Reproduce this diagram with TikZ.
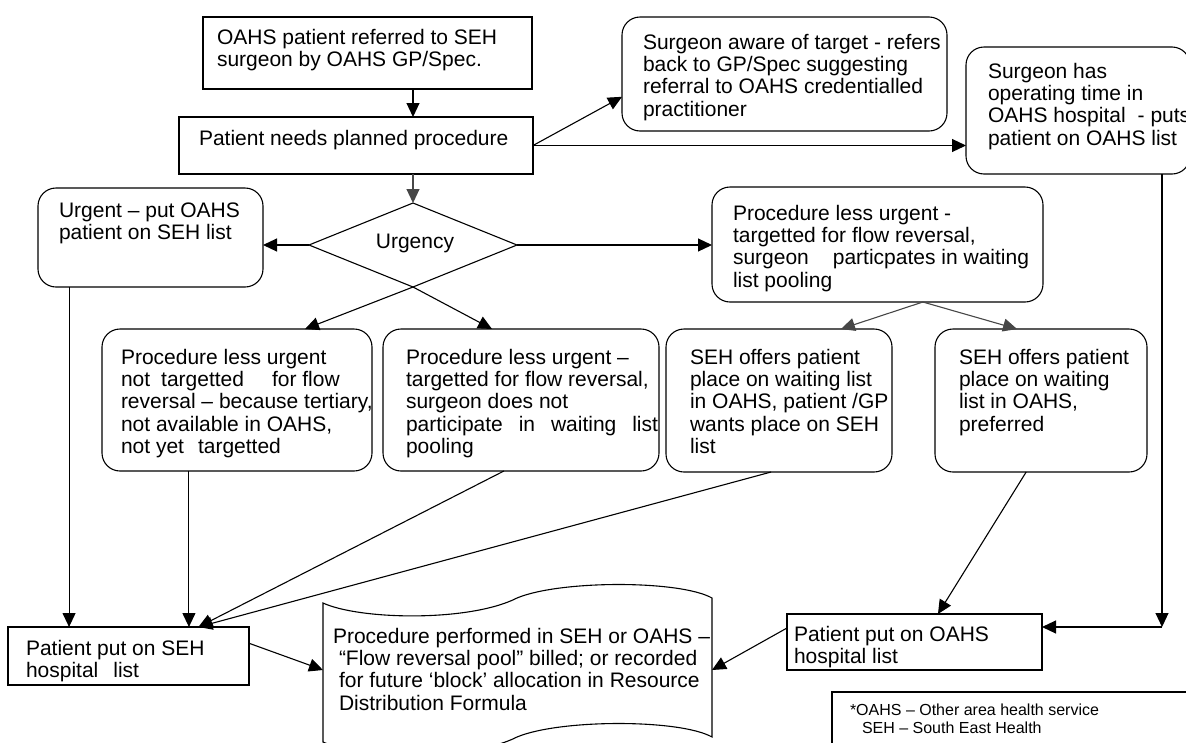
\documentclass[tikz,border=0pt]{standalone}
\usepackage{fontspec}
\setmainfont{Liberation Sans}
\usetikzlibrary{arrows.meta,shapes.geometric,calc}
\newcommand\fs{\fontsize{21pt}{22.3pt}\selectfont}
\newcommand\lfs{\fontsize{16pt}{18pt}\selectfont}
\begin{document}
\begin{tikzpicture}[x=1pt,y=-1pt,
  every node/.style={inner sep=0pt, outer sep=0pt},
  box/.style={draw, line width=1.1pt, rectangle, anchor=north west},
  rbox/.style={box, rounded corners=18pt},
  txt/.style={anchor=north west, align=left, font=\fs},
  arr/.style={line width=1.1pt, -{Triangle[length=14pt,width=13pt]}},
  garr/.style={arr, draw=black!72},
  ln/.style={line width=1.1pt}]
\path[use as bounding box] (0,0) rectangle (1186,742);
\clip (0,0) rectangle (1186,742);
\fill[white] (0,0) rectangle (1186,742);

% boxes
\node[box, minimum width=329pt, minimum height=72pt] (A) at (203,17) {};
\node[box, minimum width=354pt, minimum height=57pt] (B) at (179,117) {};
\node[rbox, minimum width=225pt, minimum height=99pt] (Urg) at (38,188) {};
\node[draw, line width=1.1pt, diamond, shape aspect=2.5, minimum width=208pt, minimum height=84pt] (D) at (413,245) {};
\node[rbox, minimum width=325pt, minimum height=114pt] (SA) at (622,17) {};
\node[rbox, minimum width=224pt, minimum height=127pt] (SH) at (966,47) {};
\node[rbox, minimum width=331pt, minimum height=115pt] (LR) at (712,187) {};
\node[rbox, minimum width=270pt, minimum height=142pt] (NT) at (102,329) {};
\node[rbox, minimum width=276pt, minimum height=142pt] (DNP) at (383,329) {};
\node[rbox, minimum width=226pt, minimum height=143pt] (GP) at (666,329) {};
\node[rbox, minimum width=212pt, minimum height=143pt] (Pref) at (935,329) {};
\node[box, minimum width=241pt, minimum height=58pt] (SEH) at (8,627) {};
\node[box, minimum width=255pt, minimum height=56pt] (OAHS) at (787,614) {};
\node[box, minimum width=370pt, minimum height=70pt] (Leg) at (832,692) {};
\node[minimum width=389pt, minimum height=140pt] (Doc) at (517.5,670) {};

% document (tape) outline
\draw[ln] (323,603) .. controls (360,620) and (470,622) .. (517,598)
  .. controls (560,580) and (680,580) .. (712,598) -- (712,737)
  .. controls (680,719) and (560,719) .. (517,737)
  .. controls (470,761) and (360,759) .. (323,742) -- cycle;

% texts
\node[txt] (tA) at (217,29) {OAHS patient referred to SEH\\surgeon by OAHS GP/Spec.};
\node[txt] (tB) at (199,130) {Patient needs planned procedure};
\node[txt] (tUrg) at (59,203) {Urgent – put OAHS\\patient on SEH list};
\node[font=\fs] (tD) at (415,243) {Urgency};
\node[txt] (tSA) at (643,34) {Surgeon aware of target - refers\\back to GP/Spec suggesting\\referral to OAHS credentialled\\practitioner};
\node[txt] (tSH) at (988,63) {Surgeon has\\operating time in\\OAHS hospital\hspace{12pt}- puts\\patient on OAHS list};
\node[txt] (tLR) at (733,205) {Procedure less urgent -\\targetted for flow reversal,\\surgeon\hspace{24pt}particpates in waiting\\list pooling};
\node[txt] (tNT) at (121,349) {Procedure less urgent\\not\hspace{11pt}targetted\hspace{28pt}for flow\\reversal – because tertiary,\\not available in OAHS,\\not yet\hspace{14pt}targetted};
\node[txt] (tDNP) at (406,349) {Procedure less urgent –\\targetted for flow reversal,\\surgeon does not\\\makebox[252pt][s]{participate in waiting list}\\pooling};
\node[txt] (tGP) at (690,349) {SEH offers patient\\place on waiting list\\in OAHS, patient /GP\\wants place on SEH\\list};
\node[txt] (tPref) at (959,349) {SEH offers patient\\place on waiting\\list in OAHS,\\preferred};
\node[txt] (tSEH) at (26,640) {Patient put on SEH\\hospital\hspace{15pt}list};
\node[txt] (tOAHS) at (794,626) {Patient put on OAHS\\hospital list};
\node[txt] (tDoc) at (333,628) {Procedure performed in SEH or OAHS –\\\hspace*{6pt}“Flow reversal pool” billed; or recorded\\\hspace*{6pt}for future ‘block’ allocation in Resource\\\hspace*{6pt}Distribution Formula};
\node[anchor=north west, align=left, font=\lfs] (tLeg) at (850,704) {*OAHS – Other area health service\\\hspace*{12pt}SEH – South East Health};

% connectors
\coordinate (c1) at (1162,627);
\draw[arr] (A.south -| D.north) -- (B.north -| D.north);
\draw[garr] (B.south -| D.north) -- (D.north);
\draw[arr] (B.east) -- ($(SA.north west)!0.7!(SA.south west)$);
\draw[arr] (B.east) -- (B.east -| SH.west);
\draw[arr] (D.west) -- (D.west -| Urg.east);
\draw[arr] (D.east) -- (D.east -| LR.west);
\draw[arr] (D.south) -- ($(NT.north west)!0.752!(NT.north east)$);
\draw[arr] (D.south) -- ($(DNP.north west)!0.395!(DNP.north east)$);
\draw[garr] ($(LR.south west)!0.637!(LR.south east)$) -- ($(GP.north west)!0.774!(GP.north east)$);
\draw[garr] ($(LR.south west)!0.637!(LR.south east)$) -- ($(Pref.north west)!0.387!(Pref.north east)$);
\draw[arr] ($(Urg.south west)!0.138!(Urg.south east)$) coordinate (u1) -- (u1 |- SEH.north);
\draw[arr] ($(NT.south west)!0.322!(NT.south east)$) coordinate (n1) -- (n1 |- SEH.north);
\draw[arr] ($(DNP.south west)!0.438!(DNP.south east)$) -- ($(SEH.north west)!0.79!(SEH.north east)$);
\draw[arr] ($(GP.south west)!0.465!(GP.south east)$) -- ($(SEH.north west)!0.79!(SEH.north east)$);
\draw[arr] ($(Pref.south west)!0.43!(Pref.south east)$) -- ($(OAHS.north west)!0.592!(OAHS.north east)$);
\draw[arr] (SH.south -| c1) -- (c1);
\draw[arr] (c1) -- (c1 -| OAHS.east);
\draw[arr] ($(SEH.north east)!0.28!(SEH.south east)$) -- (Doc.west);
\draw[arr] ($(OAHS.north west)!0.25!(OAHS.south west)$) -- (Doc.east);
\end{tikzpicture}
\end{document}
